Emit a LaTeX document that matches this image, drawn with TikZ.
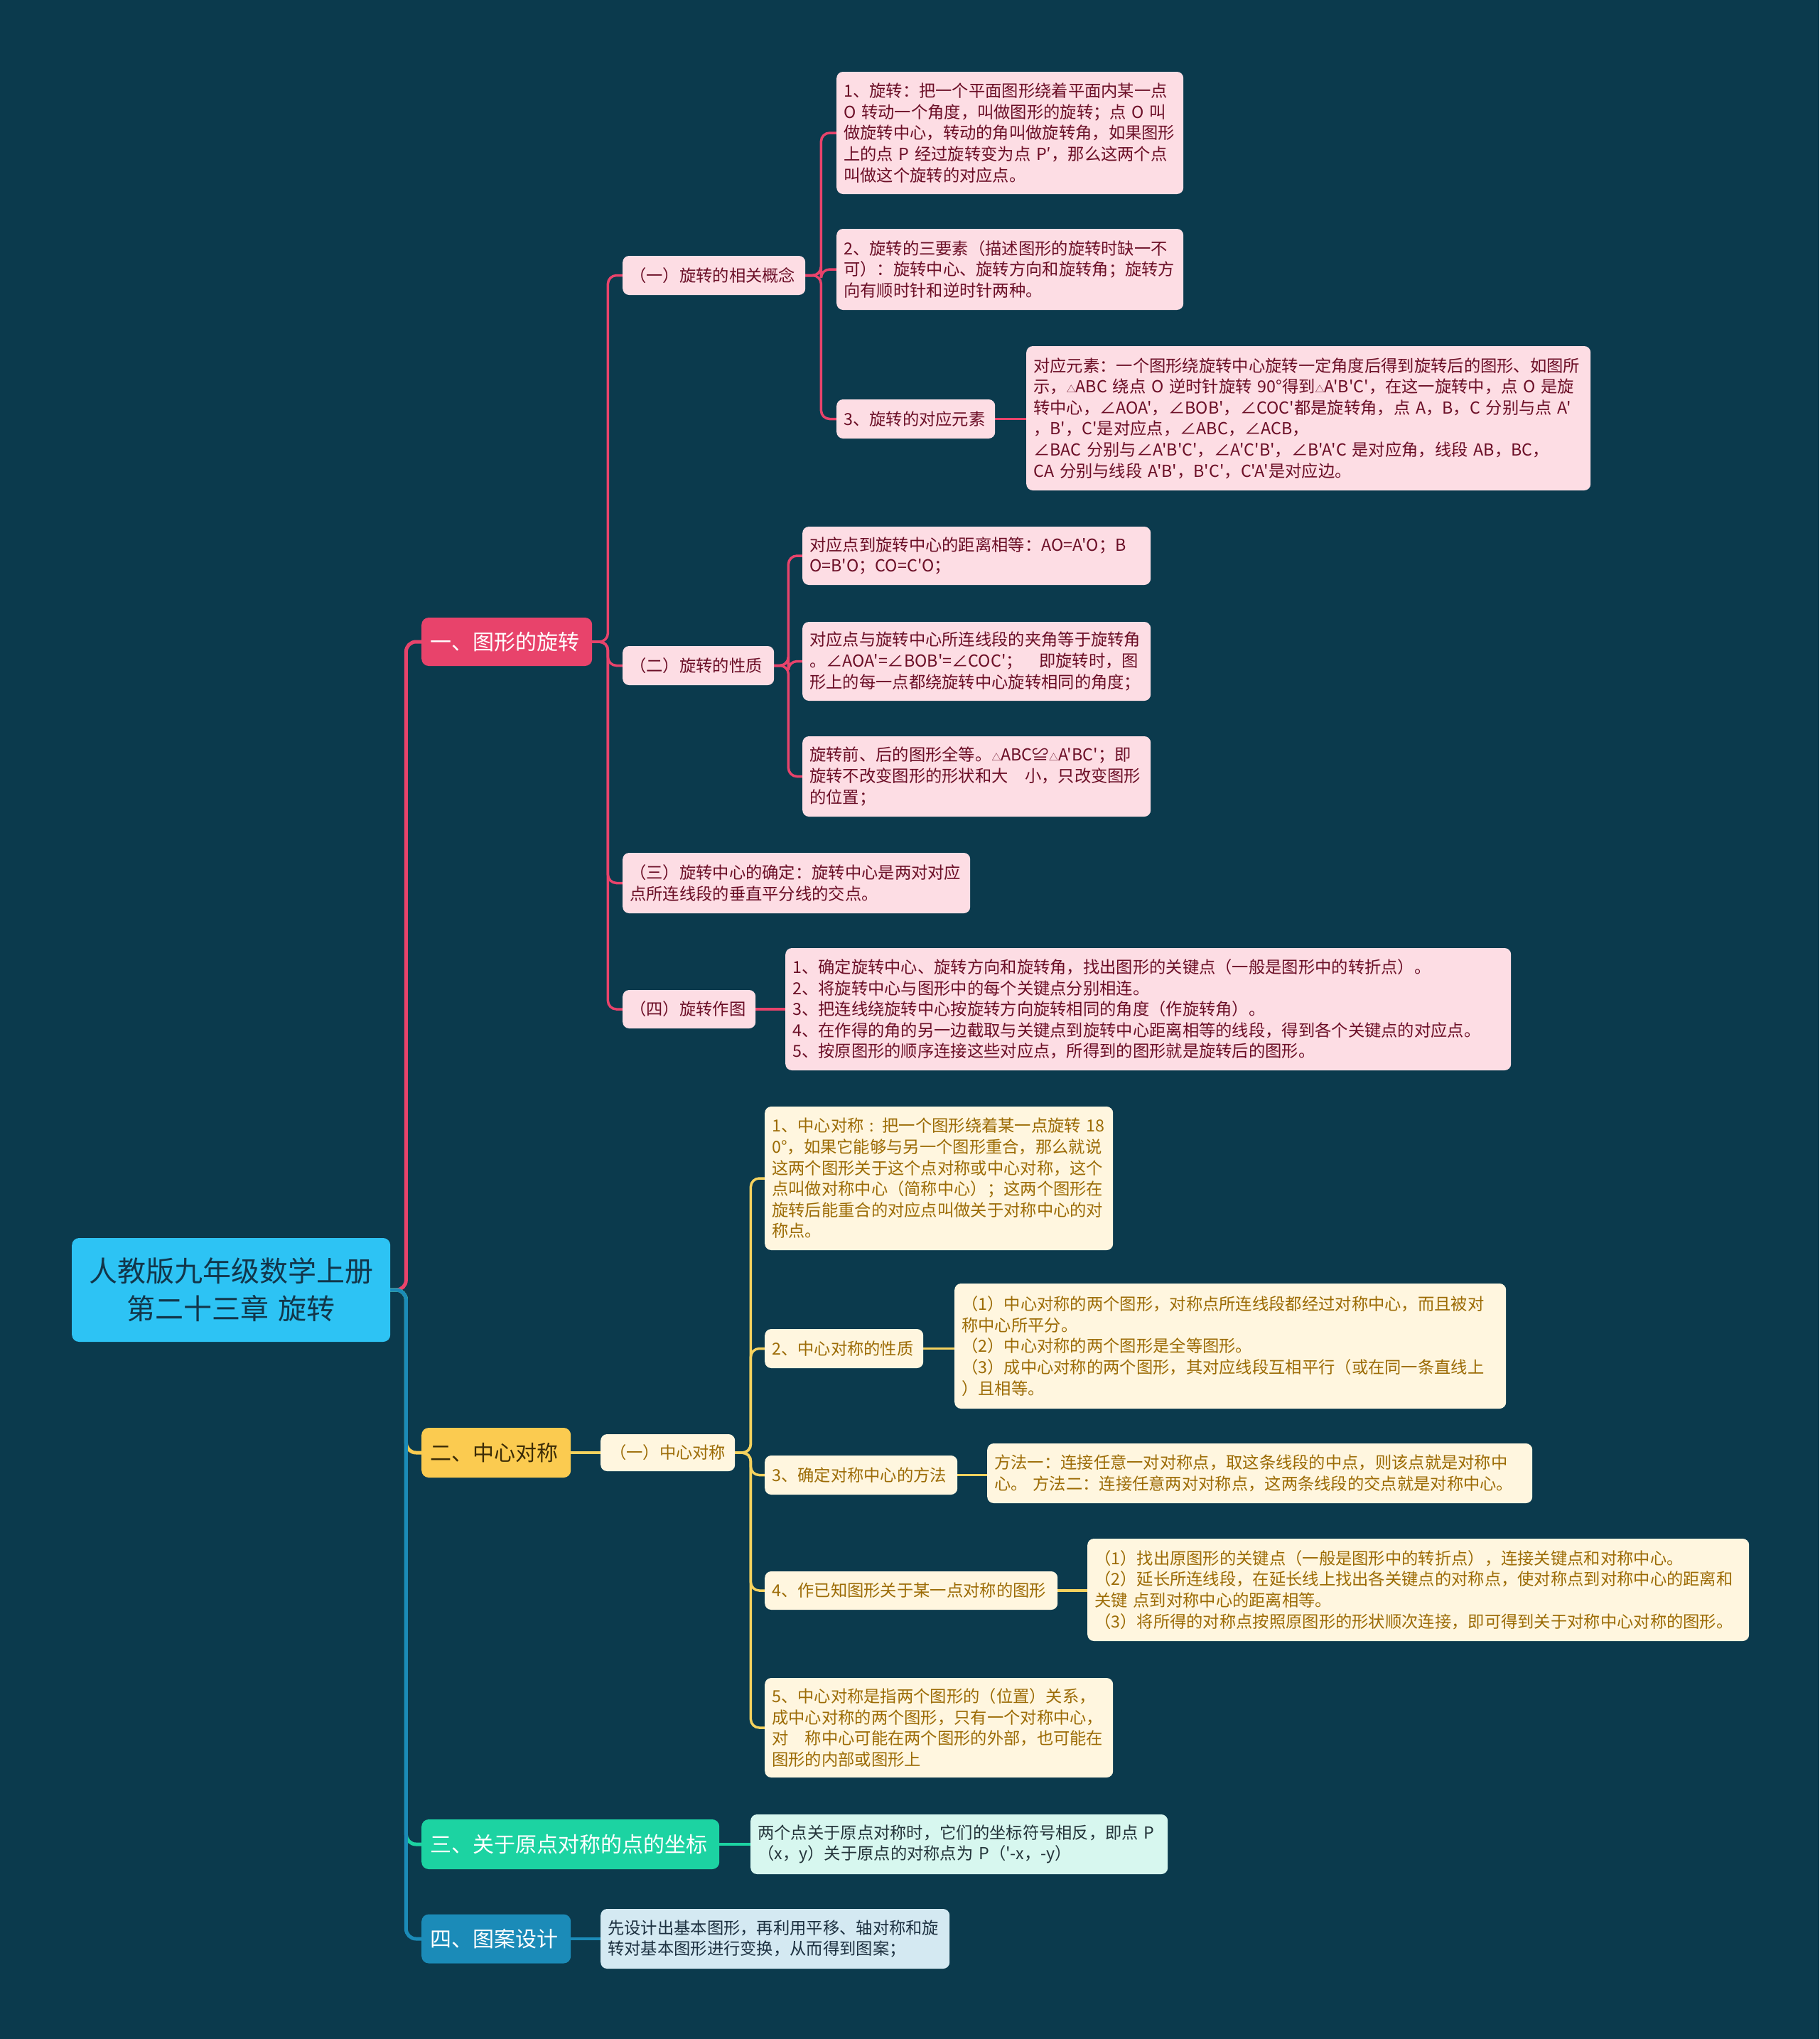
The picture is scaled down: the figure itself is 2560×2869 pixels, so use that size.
\documentclass[tikz,border=0pt]{standalone}
\usepackage{fontspec}
\newfontfamily\cjk[Ligatures=TeXOff]{Noto Sans CJK SC}
\definecolor{bg}{HTML}{0B3A4D}
\definecolor{rootF}{HTML}{2DC3F4}
\definecolor{rootT}{HTML}{12364A}
\definecolor{redF}{HTML}{E8436B}
\definecolor{pinkL}{HTML}{FDDDE4}
\definecolor{pinkT}{HTML}{6B0E26}
\definecolor{yelF}{HTML}{FBCB50}
\definecolor{yelT}{HTML}{3C2C07}
\definecolor{yelLine}{HTML}{F5D25E}
\definecolor{creamL}{HTML}{FFF6DF}
\definecolor{creamT}{HTML}{9C6B05}
\definecolor{grnF}{HTML}{1CD3A2}
\definecolor{mintL}{HTML}{D7F7EF}
\definecolor{mintT}{HTML}{24343A}
\definecolor{bluF}{HTML}{1B8BB8}
\definecolor{ltbL}{HTML}{D4E9F2}
\definecolor{ltbT}{HTML}{1C3040}
\pgfdeclarelayer{back}
\pgfdeclarelayer{mid}
\pgfsetlayers{back,mid,main}
\tikzset{
  box/.style={rounded corners=9pt, anchor=west, inner xsep=10pt, inner ysep=5pt,
    align=left, font=\cjk\fontsize{23.3}{29.6}\selectfont},
  pk/.style={box, fill=pinkL, text=pinkT},
  cr/.style={box, fill=creamL, text=creamT},
  mn/.style={box, fill=mintL, text=mintT},
  lb/.style={box, fill=ltbL, text=ltbT},
  topbox/.style={rounded corners=10pt, anchor=west, inner xsep=12pt, align=left,
    font=\cjk\fontsize{30}{36}\selectfont},
  conn/.style={rounded corners=12pt, line width=3.5pt, line cap=round},
  mainconn/.style={rounded corners=14pt, line width=5pt, line cap=round},
}
\begin{document}
\begin{tikzpicture}[x=1pt,y=-1pt]
\useasboundingbox (0,0) rectangle (2560,2869);
\begin{pgfonlayer}{back}
\fill[bg] (0,0) rectangle (2560,2869);
\end{pgfonlayer}

% root
\node[rounded corners=10pt, anchor=west, fill=rootF, text=rootT, align=center,
  text width=428, minimum height=146, inner xsep=10pt,
  font=\cjk\fontsize{40}{53}\selectfont] (root) at (101,1815)
  {人教版九年级数学上册\\第二十三章 旋转};

% level 1
\node[topbox, fill=redF, text=white, text width=216, minimum height=68] (A) at (593,903) {一、图形的旋转};
\node[topbox, fill=yelF, text=yelT, text width=186, minimum height=70] (B) at (593,2044) {二、中心对称};
\node[topbox, fill=grnF, text=white, text width=395, minimum height=70] (C) at (593,2595) {三、关于原点对称的点的坐标};
\node[topbox, fill=bluF, text=white, text width=186, minimum height=69] (D) at (593,2728) {四、图案设计};

% branch A level 2
\node[pk, text width=237, minimum height=55] (A1) at (876,387.5) {（一）旋转的相关概念};
\node[pk, text width=193, minimum height=55] (A2) at (876,936.5) {（二）旋转的性质};
\node[pk, text width=469, minimum height=85] (A3) at (876,1242.5) {（三）旋转中心的确定：旋转中心是两对对应\\点所连线段的垂直平分线的交点。};
\node[pk, text width=167, minimum height=54] (A4) at (876,1420) {（四）旋转作图};

% A1 children
\node[pk, text width=468, minimum height=172] (A11) at (1177,187) {1、旋转：把一个平面图形绕着平面内某一点\\O 转动一个角度，叫做图形的旋转；点 O 叫\\做旋转中心，转动的角叫做旋转角，如果图形\\上的点 P 经过旋转变为点 P′，那么这两个点\\叫做这个旋转的对应点。};
\node[pk, text width=468, minimum height=114] (A12) at (1177,379) {2、旋转的三要素（描述图形的旋转时缺一不\\可）：旋转中心、旋转方向和旋转角；旋转方\\向有顺时针和逆时针两种。};
\node[pk, text width=203, minimum height=55] (A13) at (1177,589.5) {3、旋转的对应元素};
\node[pk, text width=774, minimum height=203] (A131) at (1444,588.5) {对应元素：一个图形绕旋转中心旋转一定角度后得到旋转后的图形、如图所\\示，{\fontsize{13}{13}\selectfont △}ABC 绕点 O 逆时针旋转 90°得到{\fontsize{13}{13}\selectfont △}A'B'C'，在这一旋转中，点 O 是旋\\转中心，∠AOA'，∠BOB'，∠COC'都是旋转角，点 A，B，C 分别与点 A'\\，B'，C'是对应点，∠ABC，∠ACB，\\∠BAC 分别与∠A'B'C'，∠A'C'B'，∠B'A'C 是对应角，线段 AB，BC，\\CA 分别与线段 A'B'，B'C'，C'A'是对应边。};

% A2 children
\node[pk, text width=470, minimum height=82] (A21) at (1129,782) {对应点到旋转中心的距离相等：AO=A'O；B\\O=B'O；CO=C'O；};
\node[pk, text width=470, minimum height=111] (A22) at (1129,930.5) {对应点与旋转中心所连线段的夹角等于旋转角\\。∠AOA'=∠BOB'=∠COC'；\quad 即旋转时，图\\形上的每一点都绕旋转中心旋转相同的角度；};
\node[pk, text width=470, minimum height=113] (A23) at (1129,1092.5) {旋转前、后的图形全等。{\fontsize{13}{13}\selectfont △}ABC≌{\fontsize{13}{13}\selectfont △}A'BC'；即\\旋转不改变图形的形状和大\quad 小，只改变图形\\的位置；};

% A4 child
\node[pk, text width=1001, minimum height=172] (A41) at (1105,1420) {1、确定旋转中心、旋转方向和旋转角，找出图形的关键点（一般是图形中的转折点）。\\2、将旋转中心与图形中的每个关键点分别相连。\\3、把连线绕旋转中心按旋转方向旋转相同的角度（作旋转角）。\\4、在作得的角的另一边截取与关键点到旋转中心距离相等的线段，得到各个关键点的对应点。\\5、按原图形的顺序连接这些对应点，所得到的图形就是旋转后的图形。};

% branch B
\node[cr, text width=169, minimum height=52, align=center] (B1) at (845,2044) {（一）中心对称};
\node[cr, text width=470, minimum height=202] (B11) at (1076,1658) {1、中心对称 : 把一个图形绕着某一点旋转 18\\0°，如果它能够与另一个图形重合，那么就说\\这两个图形关于这个点对称或中心对称，这个\\点叫做对称中心（简称中心）；这两个图形在\\旋转后能重合的对应点叫做关于对称中心的对\\称点。};
\node[cr, text width=203, minimum height=55] (B12) at (1076,1897.5) {2、中心对称的性质};
\node[cr, text width=756, minimum height=176] (B121) at (1343,1894) {（1）中心对称的两个图形，对称点所连线段都经过对称中心，而且被对\\称中心所平分。\\（2）中心对称的两个图形是全等图形。\\（3）成中心对称的两个图形，其对应线段互相平行（或在同一条直线上\\）且相等。};
\node[cr, text width=251, minimum height=55] (B13) at (1076,2075.5) {3、确定对称中心的方法};
\node[cr, text width=747, minimum height=84] (B131) at (1389,2073) {方法一：连接任意一对对称点，取这条线段的中点，则该点就是对称中\\心。\ 方法二：连接任意两对对称点，这两条线段的交点就是对称中心。};
\node[cr, text width=392, minimum height=54] (B14) at (1076,2238) {4、作已知图形关于某一点对称的图形};
\node[cr, text width=911, minimum height=144] (B141) at (1530,2237) {（1）找出原图形的关键点（一般是图形中的转折点），连接关键点和对称中心。\\（2）延长所连线段，在延长线上找出各关键点的对称点，使对称点到对称中心的距离和\\关键\ 点到对称中心的距离相等。\\（3）将所得的对称点按照原图形的形状顺次连接，即可得到关于对称中心对称的图形。};
\node[cr, text width=470, minimum height=140] (B15) at (1076,2431) {5、中心对称是指两个图形的（位置）关系，\\成中心对称的两个图形，只有一个对称中心，\\对\quad 称中心可能在两个图形的外部，也可能在\\图形的内部或图形上};

% branch C, D
\node[mn, text width=567, minimum height=84] (C1) at (1056,2595) {两个点关于原点对称时，它们的坐标符号相反，即点 P\\（x，y）关于原点的对称点为 P（'-x，-y）};
\node[lb, text width=471, minimum height=84] (D1) at (845,2728) {先设计出基本图形，再利用平移、轴对称和旋\\转对基本图形进行变换，从而得到图案；};

% connectors
\begin{pgfonlayer}{mid}
\draw[mainconn, redF] (root.east) -- ++(22,0) |- (A.west);
\draw[mainconn, yelF] (root.east) -- ++(22,0) |- (B.west);
\draw[mainconn, grnF] (root.east) -- ++(22,0) |- (C.west);
\draw[mainconn, bluF] (root.east) -- ++(22,0) |- (D.west);

\foreach \c in {A1,A2,A3,A4}
  \draw[conn, redF] (A.east) -- ++(22,0) |- (\c.west);
\foreach \c in {A11,A12,A13}
  \draw[conn, redF] (A1.east) -- ++(22,0) |- (\c.west);
\draw[conn, redF] (A13.east) -- (A13.east -| A131.west);
\foreach \c in {A21,A22,A23}
  \draw[conn, redF] (A2.east) -- ++(20,0) |- (\c.west);
\draw[conn, redF] (A4.east) -- (A41.west);

\draw[conn, yelLine] (B.east) -- (B1.west);
\foreach \c in {B11,B12,B13,B14,B15}
  \draw[conn, yelLine] (B1.east) -- ++(22,0) |- (\c.west);
\draw[conn, yelLine] (B12.east) -- (B12.east -| B121.west);
\draw[conn, yelLine] (B13.east) -- (B13.east -| B131.west);
\draw[conn, yelLine] (B14.east) -- (B14.east -| B141.west);

\draw[conn, grnF] (C.east) -- (C1.west);
\draw[conn, bluF] (D.east) -- (D1.west);
\end{pgfonlayer}
\end{tikzpicture}
\end{document}
